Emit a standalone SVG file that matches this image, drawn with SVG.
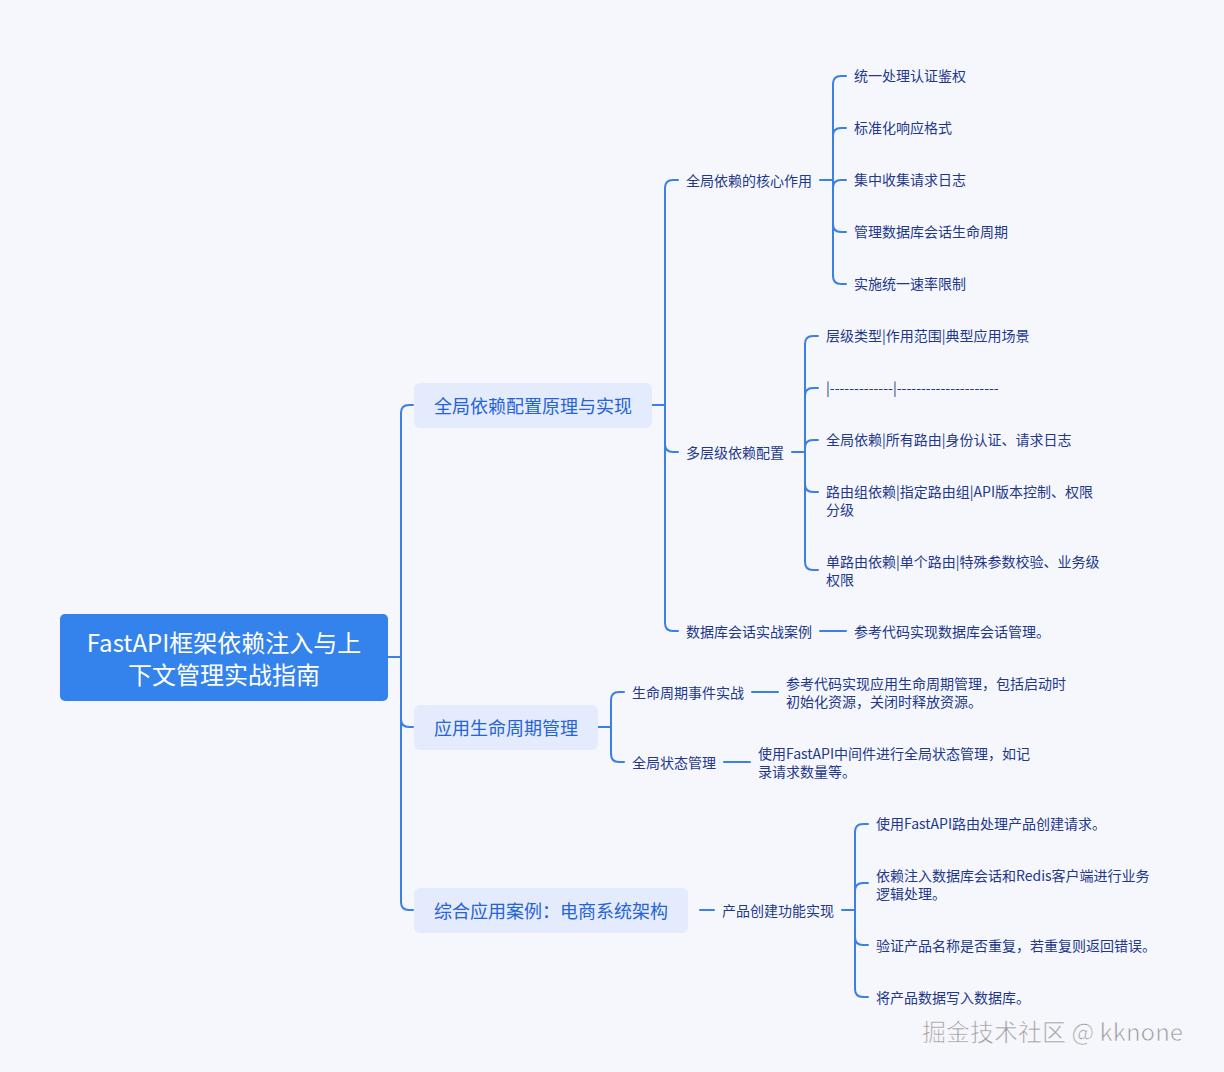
<svg xmlns="http://www.w3.org/2000/svg" width="1224" height="1072" viewBox="0 0 1224 1072">
<style>
.t{font-family:"Noto Sans CJK SC","Noto Sans",sans-serif;font-size:14px;fill:#23378a;dominant-baseline:central}
.l1{font-family:"Noto Sans CJK SC","Noto Sans",sans-serif;font-size:18px;fill:#2563d8;dominant-baseline:central}
.b{fill:#e4ebfc}
.c path,.c line{stroke:#3b80e4;stroke-width:2;fill:none;stroke-linecap:round}
</style>
<rect width="1224" height="1072" fill="#f5f7fd"/>
<g class="c" id="connectors">
<line x1="388" y1="657" x2="401" y2="657"/>
<line x1="401" y1="413" x2="401" y2="902"/>
<path d="M401,413 Q401,405 409,405 H413"/>
<path d="M401,719 Q401,727 409,727 H413"/>
<path d="M401,902 Q401,910 409,910 H413"/>
<line x1="652" y1="405" x2="665" y2="405"/>
<line x1="665" y1="188" x2="665" y2="623"/>
<path d="M665,188 Q665,180 673,180 H678"/>
<path d="M665,444 Q665,452 673,452 H678"/>
<path d="M665,623 Q665,631 673,631 H678"/>
<line x1="820" y1="180" x2="833" y2="180"/>
<line x1="833" y1="84" x2="833" y2="276"/>
<path d="M833,84 Q833,76 841,76 H846"/>
<path d="M833,136 Q833,128 841,128 H846"/>
<path d="M833,188 Q833,180 841,180 H846"/>
<path d="M833,224 Q833,232 841,232 H846"/>
<path d="M833,276 Q833,284 841,284 H846"/>
<line x1="792" y1="452" x2="805" y2="452"/>
<line x1="805" y1="344" x2="805" y2="562"/>
<path d="M805,344 Q805,336 813,336 H818"/>
<path d="M805,396 Q805,388 813,388 H818"/>
<path d="M805,448 Q805,440 813,440 H818"/>
<path d="M805,484 Q805,492 813,492 H818"/>
<path d="M805,562 Q805,570 813,570 H818"/>
<line x1="820" y1="631" x2="846" y2="631"/>
<line x1="598" y1="727" x2="611" y2="727"/>
<line x1="611" y1="700" x2="611" y2="754"/>
<path d="M611,700 Q611,692 619,692 H624"/>
<path d="M611,754 Q611,762 619,762 H624"/>
<line x1="752" y1="692" x2="778" y2="692"/>
<line x1="724" y1="762" x2="750" y2="762"/>
<line x1="700" y1="910" x2="714" y2="910"/>
<line x1="842" y1="910" x2="855" y2="910"/>
<line x1="855" y1="832" x2="855" y2="989"/>
<path d="M855,832 Q855,824 863,824 H868"/>
<path d="M855,891 Q855,883 863,883 H868"/>
<path d="M855,937 Q855,945 863,945 H868"/>
<path d="M855,989 Q855,997 863,997 H868"/>
</g>
<g id="root">
<rect x="60" y="614" width="328" height="87" rx="5" fill="#3483ec"/>
<text x="224" y="641" text-anchor="middle" font-family="Noto Sans CJK SC,Noto Sans,sans-serif" font-size="24" fill="#fff" dominant-baseline="central">FastAPI框架依赖注入与上</text>
<text x="224" y="673" text-anchor="middle" font-family="Noto Sans CJK SC,Noto Sans,sans-serif" font-size="24" fill="#fff" dominant-baseline="central">下文管理实战指南</text>
</g>
<g id="n1"><rect class="b" x="414" y="383" width="238" height="45" rx="6"/><text class="l1" x="434" y="405">全局依赖配置原理与实现</text></g>
<g id="n2"><rect class="b" x="414" y="705" width="184" height="45" rx="6"/><text class="l1" x="434" y="727">应用生命周期管理</text></g>
<g id="n3"><rect class="b" x="414" y="888" width="274" height="45" rx="6"/><text class="l1" x="434" y="910">综合应用案例：电商系统架构</text></g>
<g id="n1a"><text class="t" x="686" y="180">全局依赖的核心作用</text></g>
<g id="n1a1"><text class="t" x="854" y="75">统一处理认证鉴权</text></g>
<g id="n1a2"><text class="t" x="854" y="127">标准化响应格式</text></g>
<g id="n1a3"><text class="t" x="854" y="179">集中收集请求日志</text></g>
<g id="n1a4"><text class="t" x="854" y="231">管理数据库会话生命周期</text></g>
<g id="n1a5"><text class="t" x="854" y="283">实施统一速率限制</text></g>
<g id="n1b"><text class="t" x="686" y="452">多层级依赖配置</text></g>
<g id="n1b1"><text class="t" x="826" y="335">层级类型|作用范围|典型应用场景</text></g>
<g id="n1b2"><text class="t" x="826" y="387">|-------------|---------------------</text></g>
<g id="n1b3"><text class="t" x="826" y="439">全局依赖|所有路由|身份认证、请求日志</text></g>
<g id="n1b4"><text class="t" x="826" y="491">路由组依赖|指定路由组|API版本控制、权限</text><text class="t" x="826" y="509">分级</text></g>
<g id="n1b5"><text class="t" x="826" y="561">单路由依赖|单个路由|特殊参数校验、业务级</text><text class="t" x="826" y="579">权限</text></g>
<g id="n1c"><text class="t" x="686" y="631">数据库会话实战案例</text></g>
<g id="n1c1"><text class="t" x="854" y="631">参考代码实现数据库会话管理。</text></g>
<g id="n2a"><text class="t" x="632" y="692">生命周期事件实战</text></g>
<g id="n2a1"><text class="t" x="786" y="683">参考代码实现应用生命周期管理，包括启动时</text><text class="t" x="786" y="701">初始化资源，关闭时释放资源。</text></g>
<g id="n2b"><text class="t" x="632" y="762">全局状态管理</text></g>
<g id="n2b1"><text class="t" x="758" y="753">使用FastAPI中间件进行全局状态管理，如记</text><text class="t" x="758" y="771">录请求数量等。</text></g>
<g id="n3a"><text class="t" x="722" y="910">产品创建功能实现</text></g>
<g id="n3a1"><text class="t" x="876" y="823">使用FastAPI路由处理产品创建请求。</text></g>
<g id="n3a2"><text class="t" x="876" y="875">依赖注入数据库会话和Redis客户端进行业务</text><text class="t" x="876" y="893">逻辑处理。</text></g>
<g id="n3a3"><text class="t" x="876" y="945">验证产品名称是否重复，若重复则返回错误。</text></g>
<g id="n3a4"><text class="t" x="876" y="997">将产品数据写入数据库。</text></g>
<text x="922" y="1030" font-family="Noto Sans CJK SC,Noto Sans,sans-serif" font-size="24" fill="#9a9aa0" stroke="#ffffff" stroke-width="0.6" dominant-baseline="central">掘金技术社区 @ kknone</text>
</svg>
